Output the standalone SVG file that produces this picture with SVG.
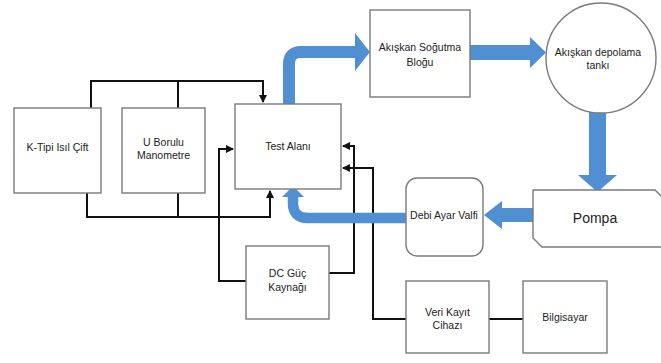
<svg xmlns="http://www.w3.org/2000/svg" width="661" height="363" viewBox="0 0 661 363">
<style>
.box{fill:#fff;stroke:#7a7a7a;stroke-width:1.4}
.t{font-family:"Liberation Sans",Arial,sans-serif;font-size:10.5px;fill:#222;text-anchor:middle}
.big{font-size:14px}
.c{fill:none;stroke:#111;stroke-width:2}
.blue{fill:#4f8fd2}
.bs{fill:none;stroke:#4f8fd2}
</style>
<defs>
<marker id="ah" viewBox="0 0 8 8" refX="7" refY="4" markerWidth="4" markerHeight="4" orient="auto" markerUnits="strokeWidth">
<path d="M0,0 L8,4 L0,8 Z" fill="#111"/>
</marker>
</defs>
<rect width="661" height="363" fill="#fff"/>
<g id="connectors">
<path class="c" d="M91,108 V81 H263 V102" marker-end="url(#ah)"/>
<path class="c" d="M178,108 V81"/>
<path class="c" d="M87,193 V217 H270 V191" marker-end="url(#ah)"/>
<path class="c" d="M178,193 V217"/>
<path class="c" d="M246,281 H219 V149 H233" marker-end="url(#ah)"/>
<path class="c" d="M329,273 H354 V146 H343" marker-end="url(#ah)"/>
<path class="c" d="M406,319 H373 V168 H343" marker-end="url(#ah)"/>
<path class="c" d="M489,319 H523"/>
<path class="bs" stroke-width="12" d="M289,104 V64 Q289,52 301,52 H356"/>
<polygon class="blue" points="355,33 370,52 355,71"/>
<rect class="blue" x="470" y="45" width="61" height="15"/>
<polygon class="blue" points="530,37 546,52.5 530,68"/>
<rect class="blue" x="589" y="110" width="17" height="66"/>
<polygon class="blue" points="578,175 597.5,192 617,175"/>
<rect class="blue" x="501" y="208" width="33" height="14"/>
<polygon class="blue" points="502,201 484,215 502,229"/>
<path class="bs" stroke-width="10.5" d="M406,218 H308 Q293,218 293,203 V195"/>
<polygon class="blue" points="282,197 293,186 304,197"/>
</g>
<g id="k-tipi">
<rect class="box" x="14" y="108" width="87" height="85"/>
<text class="t" x="57.5" y="151">K-Tipi Isıl Çift</text>
</g>
<g id="u-borulu">
<rect class="box" x="122" y="108" width="83" height="85"/>
<text class="t" x="163.5" y="146">U Borulu</text>
<text class="t" x="163.5" y="159">Manometre</text>
</g>
<g id="test-alani">
<rect class="box" x="235" y="104" width="106" height="85"/>
<text class="t" x="288" y="150">Test Alanı</text>
</g>
<g id="sogutma">
<rect class="box" x="370" y="10" width="100" height="87"/>
<text class="t" x="420" y="51">Akışkan Soğutma</text>
<text class="t" x="420" y="66">Bloğu</text>
</g>
<g id="tank">
<circle class="box" cx="601" cy="58" r="55"/>
<text class="t" x="598" y="56">Akışkan depolama</text>
<text class="t" x="598" y="69">tankı</text>
</g>
<g id="pompa">
<path class="box" d="M533,190 H655 L665,200 V247 H542 L533,238 Z"/>
<text class="t big" x="595" y="223">Pompa</text>
</g>
<g id="valf">
<rect class="box" x="406" y="178" width="77" height="78" rx="11"/>
<text class="t" x="444" y="219">Debi Ayar Valfi</text>
</g>
<g id="dc">
<rect class="box" x="246" y="246" width="83" height="73"/>
<text class="t" x="287.5" y="277">DC Güç</text>
<text class="t" x="287.5" y="291">Kaynağı</text>
</g>
<g id="veri">
<rect class="box" x="406" y="281" width="83" height="72"/>
<text class="t" x="447.5" y="316">Veri Kayıt</text>
<text class="t" x="447.5" y="329">Cihazı</text>
</g>
<g id="bilgisayar">
<rect class="box" x="523" y="281" width="84" height="72"/>
<text class="t" x="565" y="321">Bilgisayar</text>
</g>
</svg>
